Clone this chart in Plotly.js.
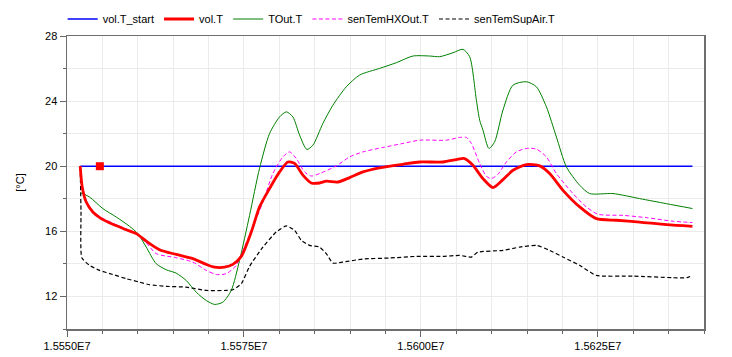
<!DOCTYPE html>
<html>
<head>
<meta charset="utf-8">
<script src="https://cdn.plot.ly/plotly-3.0.1.min.js"></script>
<style>html,body{margin:0;padding:0;background:#fff;}</style>
</head>
<body>
<div id="chart" style="width:732px;height:357px;"></div>
<script>
// time axis values (s) and temperatures (°C)
const startT = [15551866, 15638365];
const startV = [20, 20];
const markerT = [15554640];
const markerV = [20];

const volT_t = [15551866,15552148,15552714,15553647,15554834,15556473,15558367,15559781,15561194,15563074,15565434,15567781,15569675,15570848,15572261,15573434,15574622,15576035,15577208,15578622,15580035,15581208,15582155,15583328,15584515,15585688,15586635,15588275,15589929,15591809,15594169,15597462,15599822,15603115,15605009,15606182,15607356,15608769,15610182,15611596,15613009,15614903,15616783,15618196,15620076,15622436,15624797,15627623,15630917,15634690,15638365];
const volT_v = [20.0,18.73,17.80,17.19,16.78,16.43,16.10,15.86,15.40,14.87,14.58,14.32,13.97,13.80,13.80,13.97,14.46,15.96,17.50,18.63,19.65,20.26,20.17,19.45,18.97,18.97,19.08,19.03,19.30,19.65,19.90,20.12,20.26,20.26,20.41,20.47,20.06,19.24,18.69,19.18,19.75,20.10,20.02,19.55,18.52,17.50,16.78,16.68,16.57,16.41,16.31];

const tOut_t = [15551866,15553180,15555060,15556954,15558834,15560007,15561194,15562607,15564021,15565434,15566848,15568261,15569675,15570848,15572021,15573208,15574382,15575795,15577208,15578622,15580035,15580982,15581914,15582861,15583893,15584741,15586155,15587568,15589462,15591342,15594169,15596529,15598875,15601237,15602650,15604530,15605943,15606890,15607837,15608304,15608769,15609617,15610423,15611596,15613009,15614903,15616317,15617730,15619144,15620557,15622436,15623850,15627143,15630917,15634690,15638365];
const tOut_v = [18.38,18.11,17.40,16.88,16.31,15.86,15.03,14.01,13.64,13.43,12.98,12.26,11.75,11.51,11.65,12.37,14.22,16.98,19.88,22.01,23.03,23.34,23.03,21.91,21.03,21.29,22.63,23.75,24.88,25.60,26.01,26.36,26.77,26.77,26.73,26.97,27.18,26.73,24.06,22.83,22.22,21.09,21.50,23.45,24.98,25.19,24.88,23.65,21.80,19.96,18.83,18.32,18.32,18.01,17.70,17.40];

const hx_t = [15551866,15552148,15552714,15553647,15554834,15556473,15558367,15559781,15561194,15562607,15565434,15567781,15569675,15571088,15572502,15573915,15574848,15576262,15577675,15579088,15580502,15581447,15582395,15583568,15584515,15585688,15588049,15589929,15591809,15594636,15597462,15599822,15603596,15605476,15606423,15607130,15608304,15609251,15609957,15610890,15612077,15613491,15614903,15616317,15617730,15619144,15621490,15623383,15625023,15628557,15631864,15635624,15638365];
const hx_v = [20.0,18.80,17.90,17.25,16.85,16.50,16.15,15.88,15.30,14.63,14.38,14.11,13.60,13.35,13.40,13.91,14.83,16.26,17.80,19.55,20.57,20.88,20.47,19.65,19.40,19.55,20.02,20.57,20.88,21.15,21.40,21.60,21.60,21.77,21.77,21.40,20.17,19.38,19.24,19.51,20.26,20.88,21.09,21.05,20.57,19.55,18.32,17.50,17.05,16.98,16.84,16.62,16.54];

const sup_t = [15551866,15551980,15552092,15553180,15554594,15556473,15558367,15560247,15561661,15564021,15566848,15569675,15572502,15573434,15574622,15575795,15577675,15579568,15580982,15582155,15583102,15584275,15585688,15586635,15587568,15588982,15591809,15595582,15599356,15603115,15605476,15607130,15608063,15611596,15613948,15616317,15618196,15620076,15622436,15624797,15629973,15635624,15637519,15638365];
const sup_v = [20.0,17.2,14.38,13.91,13.60,13.35,13.09,12.88,12.72,12.62,12.57,12.37,12.37,12.41,12.78,13.85,15.03,15.96,16.33,16.06,15.45,15.14,15.03,14.63,14.05,14.11,14.30,14.36,14.46,14.46,14.52,14.42,14.72,14.83,15.03,15.14,14.83,14.42,13.91,13.29,13.25,13.15,13.15,13.29];

const xTickVals = [15550000, 15575000, 15600000, 15625000];
const xTickText = ['1.5550E7', '1.5575E7', '1.5600E7', '1.5625E7'];
const xMinorVals = [15555000,15560000,15565000,15570000,15580000,15585000,15590000,15595000,15605000,15610000,15615000,15620000,15630000,15635000,15640000];

const sm = 0.7;
const traces = [
  {x: startT, y: startV, name: 'vol.T_start', mode: 'lines', line: {color: '#0000ff', width: 1.5}, legendrank: 1},
  {x: tOut_t, y: tOut_v, name: 'TOut.T', mode: 'lines', line: {color: '#007f00', width: 1, shape: 'spline', smoothing: sm}, legendrank: 3},
  {x: hx_t, y: hx_v, name: 'senTemHXOut.T', mode: 'lines', line: {color: '#ff00ff', width: 1, dash: '4px,2.5px', shape: 'spline', smoothing: sm}, legendrank: 4},
  {x: sup_t, y: sup_v, name: 'senTemSupAir.T', mode: 'lines', line: {color: '#000000', width: 1.2, dash: '4px,2.5px', shape: 'spline', smoothing: 0.5}, legendrank: 5},
  {x: volT_t, y: volT_v, name: 'vol.T', mode: 'lines', line: {color: '#ff0000', width: 2.8, shape: 'spline', smoothing: sm}, legendrank: 2},
  {x: markerT, y: markerV, mode: 'markers', showlegend: false, marker: {color: '#ff0000', symbol: 'square', size: 8}}
];

const layout = {
  width: 732, height: 357,
  margin: {l: 67, r: 28, t: 36, b: 28, autoexpand: false},
  paper_bgcolor: '#ffffff', plot_bgcolor: '#ffffff',
  font: {family: 'Liberation Sans, Arial, sans-serif', size: 11, color: '#000'},
  showlegend: true,
  legend: {orientation: 'h', x: -0.0068, xanchor: 'left', y: 1.058, yanchor: 'middle', font: {size: 11}, bgcolor: 'rgba(0,0,0,0)'},
  xaxis: {
    range: [15550000, 15640000], tickmode: 'array', tickvals: xTickVals, ticktext: xTickText,
    ticks: 'outside', ticklen: 6, tickcolor: '#666', showgrid: true, gridcolor: '#ebebeb',
    showline: true, linecolor: '#6e6e6e', linewidth: 1.5, mirror: true, zeroline: false,
    minor: {tickmode: 'array', tickvals: xMinorVals, ticks: 'outside', ticklen: 3, tickcolor: '#666', showgrid: true, gridcolor: '#ebebeb'}
  },
  yaxis: {
    range: [10, 28], tickmode: 'linear', tick0: 0, dtick: 4,
    ticks: 'outside', ticklen: 6, tickcolor: '#666', showgrid: true, gridcolor: '#ebebeb',
    showline: true, linecolor: '#6e6e6e', linewidth: 1.5, mirror: true, zeroline: false,
    title: {text: '[°C]', font: {size: 11}, standoff: 18},
    minor: {dtick: 2, ticks: 'outside', ticklen: 3, tickcolor: '#666', showgrid: true, gridcolor: '#ebebeb'}
  }
};

Plotly.newPlot('chart', traces, layout, {displayModeBar: false, staticPlot: true});
</script>
</body>
</html>
